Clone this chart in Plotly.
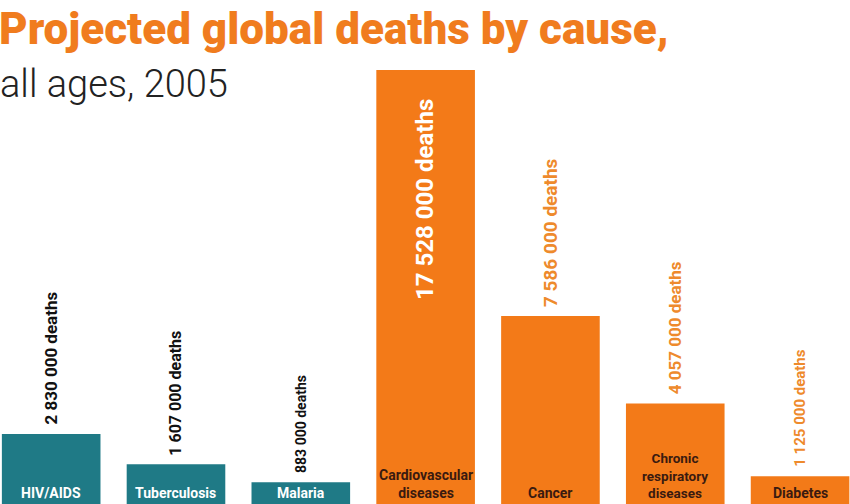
import plotly.graph_objects as go

categories = ["HIV/AIDS", "Tuberculosis", "Malaria", "Cardiovascular<br>diseases",
              "Cancer", "Chronic<br>respiratory<br>diseases", "Diabetes"]
deaths = [2830000, 1607000, 883000, 17528000, 7586000, 4057000, 1125000]
value_labels = ["2 830 000 deaths", "1 607 000 deaths", "883 000 deaths",
                "17 528 000 deaths", "7 586 000 deaths", "4 057 000 deaths",
                "1 125 000 deaths"]
group = ["infectious", "infectious", "infectious", "chronic", "chronic", "chronic", "chronic"]

TEAL = "#1f7a86"
ORANGE = "#f37a18"
DARK = "#3a1a10"
FONT = "Roboto, DejaVu Sans Condensed, sans-serif"

colors = [TEAL if g == "infectious" else ORANGE for g in group]
xs = list(range(len(categories)))

fig = go.Figure(go.Bar(x=xs, y=deaths, marker=dict(color=colors, line=dict(width=0)),
                       hoverinfo="skip"))

label_sizes = [17, 16, 14, 24, 19, 17, 15]
cat_sizes = [14, 14, 14, 14, 14, 13.5, 14]
for i, (v, lab, g) in enumerate(zip(deaths, value_labels, group)):
    if i == 3:
        fig.add_annotation(x=i, y=v, text="<b>%s</b>" % lab, textangle=-90, showarrow=False,
                           xanchor="center", yanchor="top", yshift=-27,
                           font=dict(family=FONT, size=label_sizes[i], color="white"))
    else:
        col = "#111111" if g == "infectious" else "#ee8a2c"
        fig.add_annotation(x=i, y=v, text="<b>%s</b>" % lab, textangle=-90, showarrow=False,
                           xanchor="center", yanchor="bottom", yshift=7,
                           font=dict(family=FONT, size=label_sizes[i], color=col))
    fig.add_annotation(x=i, y=0, text="<b>%s</b>" % categories[i], showarrow=False,
                       xanchor="center", yanchor="bottom", yshift=1,
                       font=dict(family=FONT, size=cat_sizes[i],
                                 color="white" if g == "infectious" else DARK))

fig.add_annotation(xref="paper", yref="paper", x=-0.003, y=0.998, xanchor="left", yanchor="top",
                   text="Projected global deaths by cause,", showarrow=False,
                   font=dict(family=FONT, size=44, color="#f07c1e", weight=900))
fig.add_annotation(xref="paper", yref="paper", x=-0.002, y=0.88, xanchor="left", yanchor="top",
                   text="all ages, 2005", showarrow=False,
                   font=dict(family=FONT, size=38, color="#222222", weight=300))

fig.update_layout(
    width=850, height=504, margin=dict(l=0, r=0, t=0, b=0),
    paper_bgcolor="white", plot_bgcolor="white",
    bargap=0.21, showlegend=False,
    xaxis=dict(range=[-0.41, 6.40], visible=False, fixedrange=True),
    yaxis=dict(range=[0, 20350000], visible=False, fixedrange=True),
)

fig.write_html("out.html", config={"displayModeBar": False})
